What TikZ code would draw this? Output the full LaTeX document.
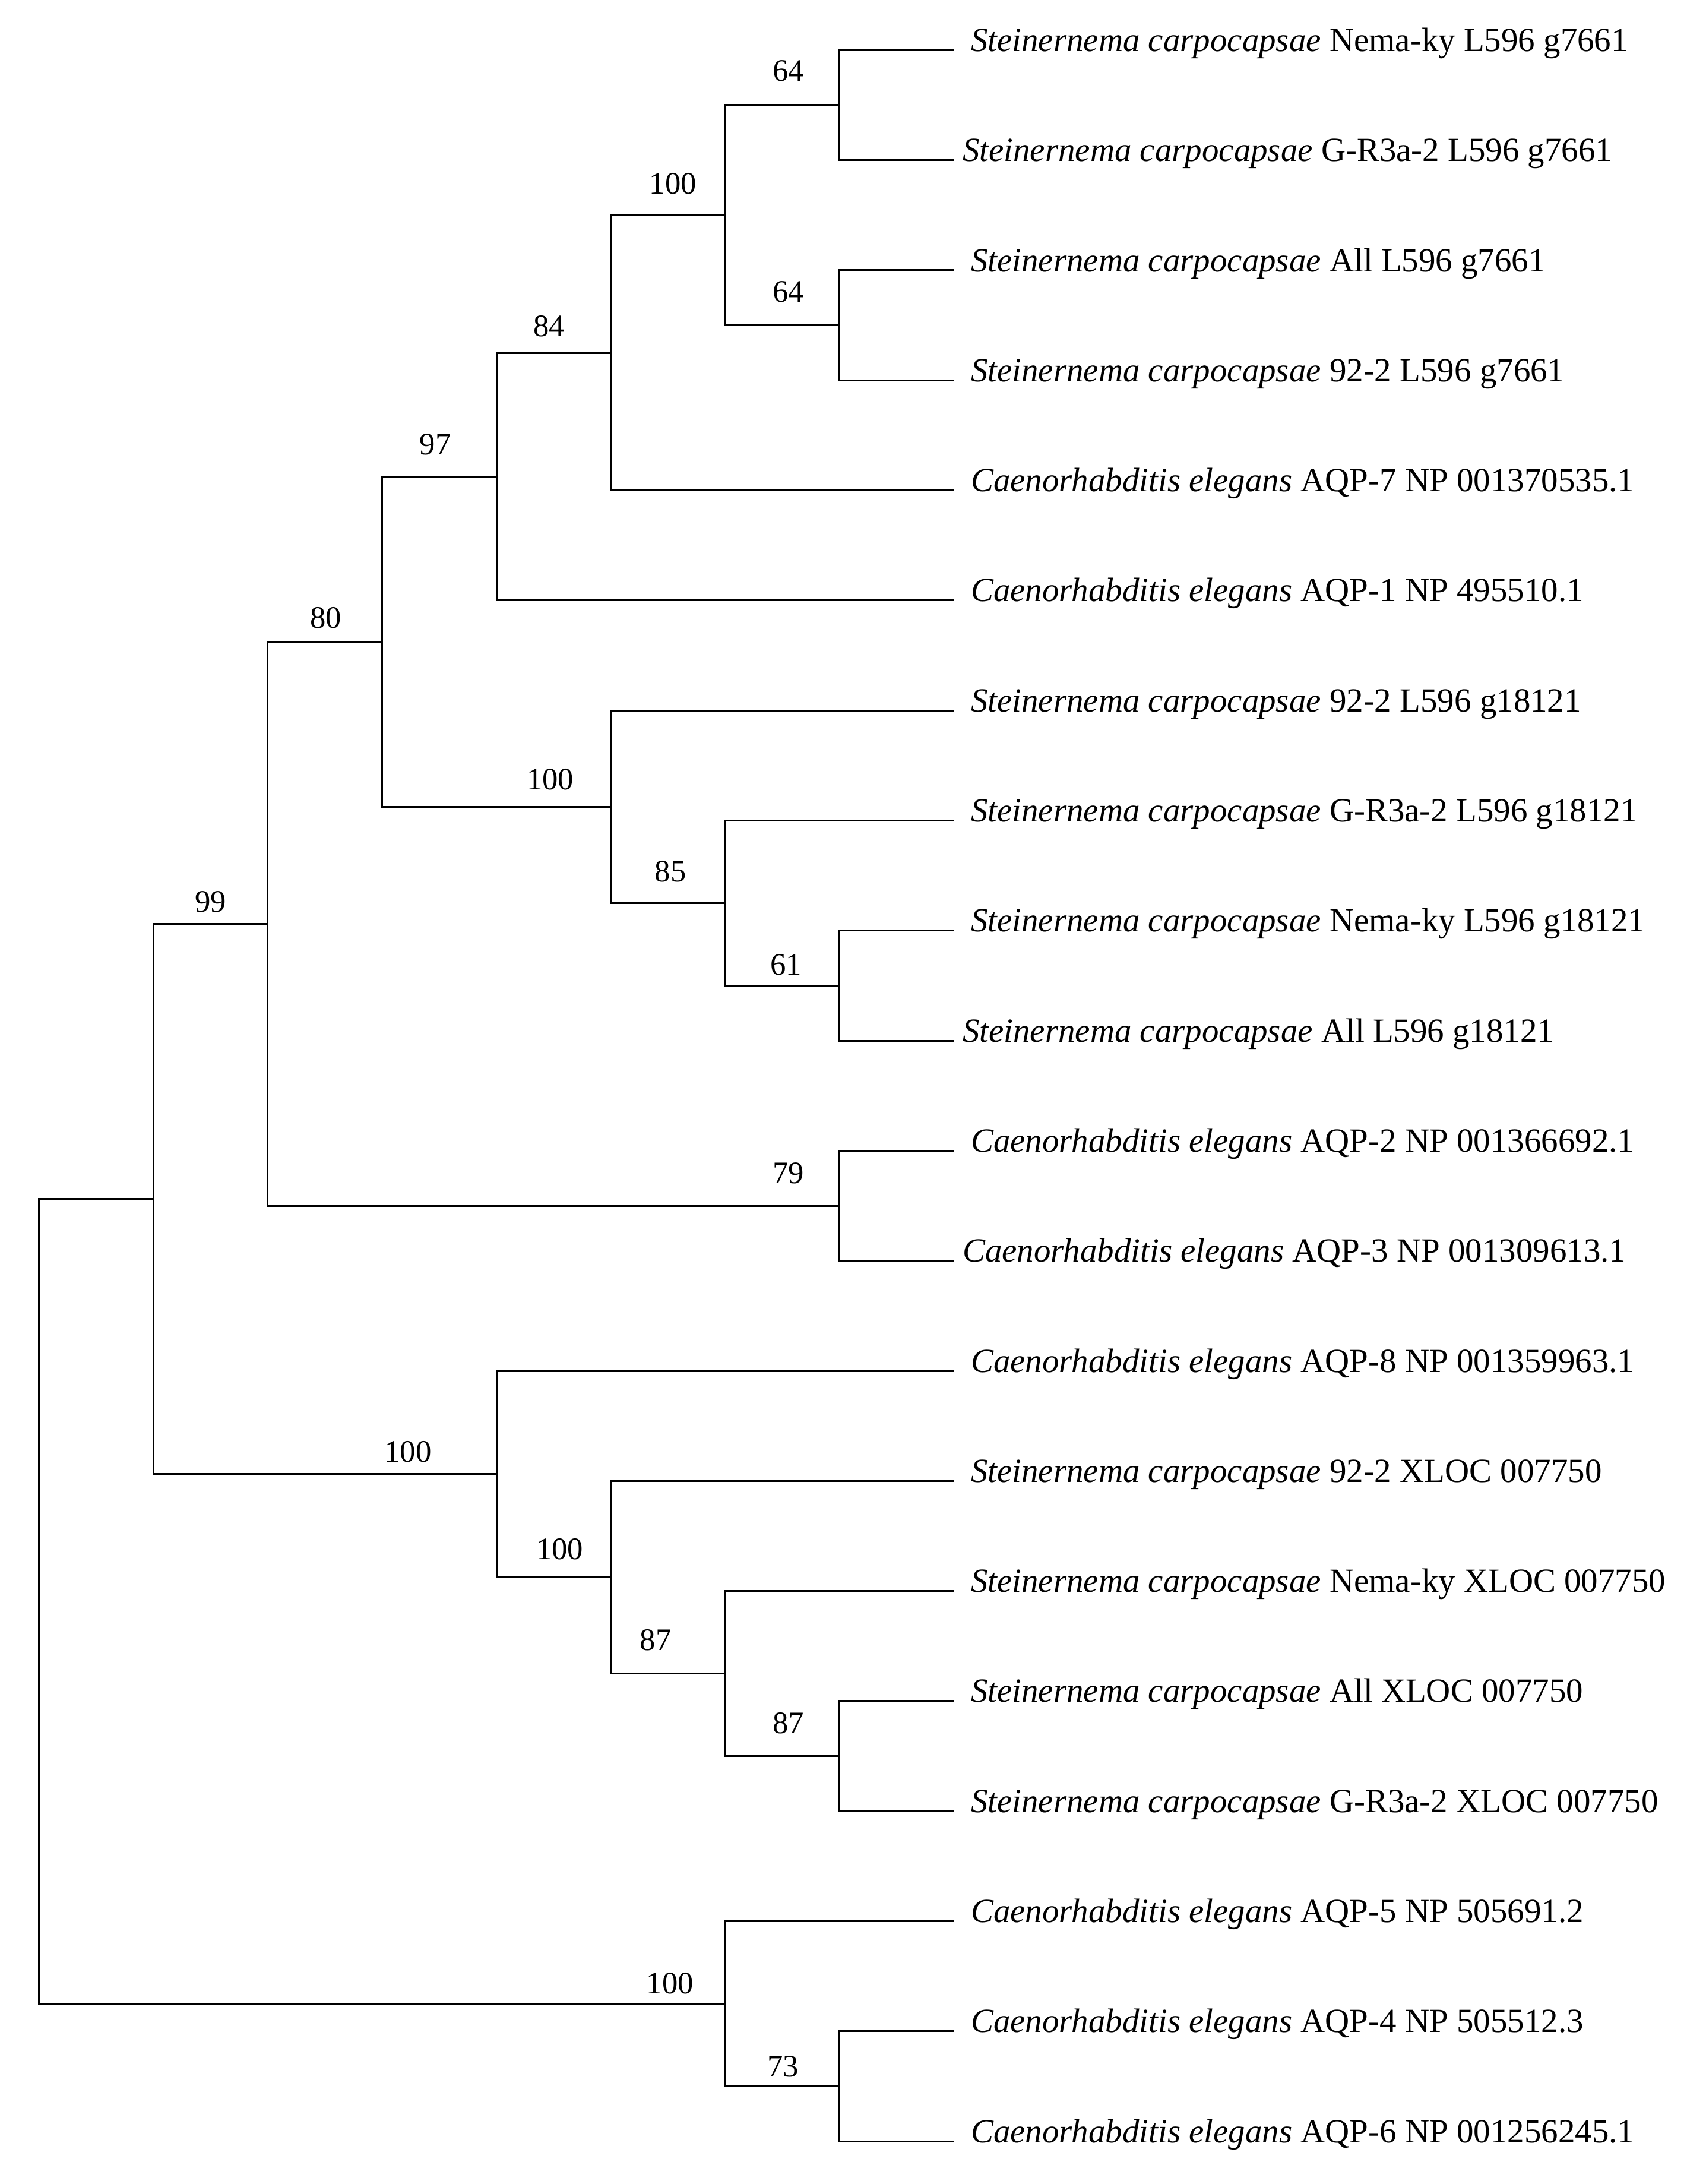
\documentclass[tikz,border=0pt]{standalone}
\usepackage{fontspec}
\setmainfont{Liberation Serif}
\begin{document}
\begin{tikzpicture}[x=1.926cm,y=-1.853cm,line width=0.9pt,
  leaf/.style={anchor=base west,inner sep=0pt,xshift=0.27cm,yshift=-0.02cm,font=\fontsize{16.2}{19}\selectfont},
  leafl/.style={leaf,xshift=-0.14cm},
  bs/.style={anchor=south,inner sep=0pt,font=\fontsize{15}{18}\selectfont}]
\useasboundingbox (-0.657cm,0.844cm) rectangle (27.743cm,-35.926cm);
\coordinate (root) at (0,14.09375);
\coordinate (n1) at (1,10.4375);
\coordinate (n99) at (2,7.9375);
\coordinate (n80) at (3,5.375);
\coordinate (n97) at (4,3.875);
\coordinate (n84) at (5,2.75);
\coordinate (n100a) at (6,1.5);
\coordinate (n64a) at (7,0.5);
\coordinate (n64b) at (7,2.5);
\coordinate (n100b) at (5,6.875);
\coordinate (n85) at (6,7.75);
\coordinate (n61) at (7,8.5);
\coordinate (n79) at (7,10.5);
\coordinate (n100d) at (4,12.9375);
\coordinate (n100c) at (5,13.875);
\coordinate (n87a) at (6,14.75);
\coordinate (n87b) at (7,15.5);
\coordinate (n100e) at (6,17.75);
\coordinate (n73) at (7,18.5);
\coordinate (t1) at (8,0);
\coordinate (t2) at (8,1);
\coordinate (t3) at (8,2);
\coordinate (t4) at (8,3);
\coordinate (t5) at (8,4);
\coordinate (t6) at (8,5);
\coordinate (t7) at (8,6);
\coordinate (t8) at (8,7);
\coordinate (t9) at (8,8);
\coordinate (t10) at (8,9);
\coordinate (t11) at (8,10);
\coordinate (t12) at (8,11);
\coordinate (t13) at (8,12);
\coordinate (t14) at (8,13);
\coordinate (t15) at (8,14);
\coordinate (t16) at (8,15);
\coordinate (t17) at (8,16);
\coordinate (t18) at (8,17);
\coordinate (t19) at (8,18);
\coordinate (t20) at (8,19);
\node[leaf] (s1) at (t1) {\textit{Steinernema carpocapsae} Nema-ky L596 g7661};
\node[leafl] (s2) at (t2) {\textit{Steinernema carpocapsae} G-R3a-2 L596 g7661};
\node[leaf] (s3) at (t3) {\textit{Steinernema carpocapsae} All L596 g7661};
\node[leaf] (s4) at (t4) {\textit{Steinernema carpocapsae} 92-2 L596 g7661};
\node[leaf] (s5) at (t5) {\textit{Caenorhabditis elegans} AQP-7 NP 001370535.1};
\node[leaf] (s6) at (t6) {\textit{Caenorhabditis elegans} AQP-1 NP 495510.1};
\node[leaf] (s7) at (t7) {\textit{Steinernema carpocapsae} 92-2 L596 g18121};
\node[leaf] (s8) at (t8) {\textit{Steinernema carpocapsae} G-R3a-2 L596 g18121};
\node[leaf] (s9) at (t9) {\textit{Steinernema carpocapsae} Nema-ky L596 g18121};
\node[leafl] (s10) at (t10) {\textit{Steinernema carpocapsae} All L596 g18121};
\node[leaf] (s11) at (t11) {\textit{Caenorhabditis elegans} AQP-2 NP 001366692.1};
\node[leafl] (s12) at (t12) {\textit{Caenorhabditis elegans} AQP-3 NP 001309613.1};
\node[leaf] (s13) at (t13) {\textit{Caenorhabditis elegans} AQP-8 NP 001359963.1};
\node[leaf] (s14) at (t14) {\textit{Steinernema carpocapsae} 92-2 XLOC 007750};
\node[leaf] (s15) at (t15) {\textit{Steinernema carpocapsae} Nema-ky XLOC 007750};
\node[leaf] (s16) at (t16) {\textit{Steinernema carpocapsae} All XLOC 007750};
\node[leaf] (s17) at (t17) {\textit{Steinernema carpocapsae} G-R3a-2 XLOC 007750};
\node[leaf] (s18) at (t18) {\textit{Caenorhabditis elegans} AQP-5 NP 505691.2};
\node[leaf] (s19) at (t19) {\textit{Caenorhabditis elegans} AQP-4 NP 505512.3};
\node[leaf] (s20) at (t20) {\textit{Caenorhabditis elegans} AQP-6 NP 001256245.1};
\draw (root) |- (n1); \draw (root) |- (n100e);
\draw (n1) |- (n99); \draw (n1) |- (n100d);
\draw (n99) |- (n80); \draw (n99) |- (n79);
\draw (n80) |- (n97); \draw (n80) |- (n100b);
\draw (n97) |- (n84); \draw (n97) |- (t6);
\draw (n84) |- (n100a); \draw (n84) |- (t5);
\draw (n100a) |- (n64a); \draw (n100a) |- (n64b);
\draw (n64a) |- (t1); \draw (n64a) |- (t2);
\draw (n64b) |- (t3); \draw (n64b) |- (t4);
\draw (n100b) |- (t7); \draw (n100b) |- (n85);
\draw (n85) |- (t8); \draw (n85) |- (n61);
\draw (n61) |- (t9); \draw (n61) |- (t10);
\draw (n79) |- (t11); \draw (n79) |- (t12);
\draw (n100d) |- (t13); \draw (n100d) |- (n100c);
\draw (n100c) |- (t14); \draw (n100c) |- (n87a);
\draw (n87a) |- (t15); \draw (n87a) |- (n87b);
\draw (n87b) |- (t16); \draw (n87b) |- (t17);
\draw (n100e) |- (t18); \draw (n100e) |- (n73);
\draw (n73) |- (t19); \draw (n73) |- (t20);
\node[bs] (b64a) at ([shift={(-0.86cm,0.38cm)}]n64a) {64};
\node[bs] (b64b) at ([shift={(-0.86cm,0.37cm)}]n64b) {64};
\node[bs] (b100a) at ([shift={(-0.88cm,0.34cm)}]n100a) {100};
\node[bs] (b84) at ([shift={(-1.04cm,0.25cm)}]n84) {84};
\node[bs] (b97) at ([shift={(-1.03cm,0.35cm)}]n97) {97};
\node[bs] (b80) at ([shift={(-0.95cm,0.21cm)}]n80) {80};
\node[bs] (b100b) at ([shift={(-1.02cm,0.27cm)}]n100b) {100};
\node[bs] (b85) at ([shift={(-0.92cm,0.34cm)}]n85) {85};
\node[bs] (b61) at ([shift={(-0.90cm,0.16cm)}]n61) {61};
\node[bs] (b79) at ([shift={(-0.86cm,0.35cm)}]n79) {79};
\node[bs] (b99) at ([shift={(-0.96cm,0.18cm)}]n99) {99};
\node[bs] (b100d) at ([shift={(-1.49cm,0.18cm)}]n100d) {100};
\node[bs] (b100c) at ([shift={(-0.86cm,0.28cm)}]n100c) {100};
\node[bs] (b87a) at ([shift={(-1.17cm,0.37cm)}]n87a) {87};
\node[bs] (b87b) at ([shift={(-0.86cm,0.36cm)}]n87b) {87};
\node[bs] (b100e) at ([shift={(-0.93cm,0.15cm)}]n100e) {100};
\node[bs] (b73) at ([shift={(-0.95cm,0.14cm)}]n73) {73};
\end{tikzpicture}
\end{document}
